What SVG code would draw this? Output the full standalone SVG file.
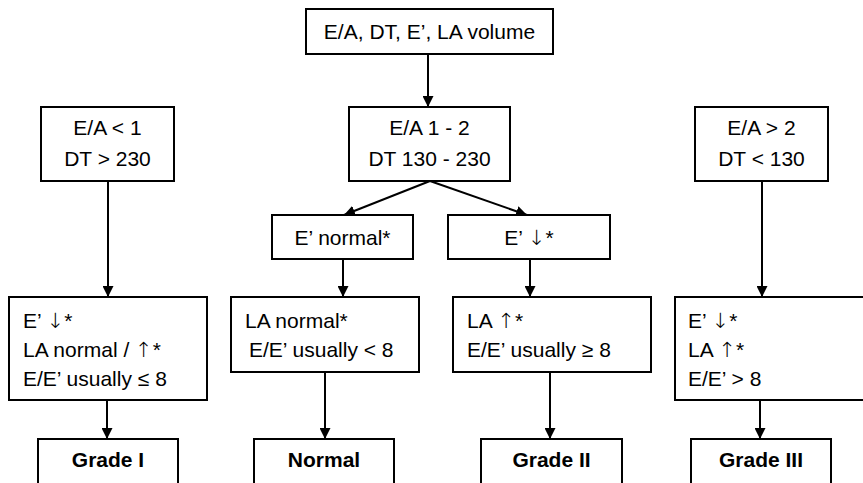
<svg xmlns="http://www.w3.org/2000/svg" width="863" height="483" viewBox="0 0 863 483">
<defs>
<marker id="ah" viewBox="0 0 10 10" refX="10" refY="5" markerWidth="11" markerHeight="11" markerUnits="userSpaceOnUse" orient="auto">
<path d="M0,0 L10,5 L0,10 Z" fill="#000"/>
</marker>
<style>
rect{fill:#fff;stroke:#000;stroke-width:2}
text{font-family:"Liberation Sans",Arial,sans-serif;font-size:21px;fill:#000}
.c{text-anchor:middle}
.b{font-weight:bold}
.ar{font-family:"DejaVu Sans",sans-serif;font-weight:200;font-size:21px;fill:#000}
#connectors line{stroke:#000;stroke-width:2;marker-end:url(#ah)}
</style>
</defs>
<rect x="0" y="0" width="863" height="483" style="fill:#fff;stroke:none"/>
<g id="connectors">
<line x1="428" y1="54" x2="428" y2="107"/>
<line x1="108" y1="181" x2="108" y2="297"/>
<line x1="430" y1="181" x2="344" y2="215"/>
<line x1="430" y1="181" x2="527" y2="215"/>
<line x1="762" y1="181" x2="762" y2="297"/>
<line x1="343" y1="259" x2="343" y2="297"/>
<line x1="530" y1="259" x2="530" y2="297"/>
<line x1="107" y1="400" x2="107" y2="439"/>
<line x1="325" y1="372" x2="325" y2="439"/>
<line x1="550" y1="372" x2="550" y2="439"/>
<line x1="760" y1="400" x2="760" y2="439"/>
</g>
<g id="n-start">
<rect x="306" y="9" width="247" height="45"/>
<text class="c" x="429.5" y="39">E/A, DT, E’, LA volume</text>
</g>
<g id="n-ea-low">
<rect x="41" y="107" width="133" height="74"/>
<text class="c" x="107.5" y="135">E/A &lt; 1</text>
<text class="c" x="107.5" y="166">DT &gt; 230</text>
</g>
<g id="n-ea-mid">
<rect x="349" y="107" width="161" height="74"/>
<text class="c" x="429.5" y="135">E/A 1 - 2</text>
<text class="c" x="429.5" y="166">DT 130 - 230</text>
</g>
<g id="n-ea-high">
<rect x="695" y="107" width="133" height="74"/>
<text class="c" x="761.5" y="135">E/A &gt; 2</text>
<text class="c" x="761.5" y="166">DT &lt; 130</text>
</g>
<g id="n-e-normal">
<rect x="272" y="215" width="141" height="44"/>
<text class="c" x="342.5" y="245">E’ normal*</text>
</g>
<g id="n-e-down">
<rect x="448" y="215" width="162" height="44"/>
<text class="c" x="529" y="245">E’ <tspan class="ar">↓</tspan>*</text>
</g>
<g id="n-grade1-crit">
<rect x="9" y="297" width="198" height="103"/>
<text x="23" y="328">E’ <tspan class="ar">↓</tspan>*</text>
<text x="23" y="357">LA normal / <tspan class="ar">↑</tspan>*</text>
<text x="23" y="386">E/E’ usually ≤ 8</text>
</g>
<g id="n-normal-crit">
<rect x="231" y="297" width="188" height="75"/>
<text x="245" y="328">LA normal*</text>
<text x="249" y="357">E/E’ usually &lt; 8</text>
</g>
<g id="n-grade2-crit">
<rect x="453" y="297" width="198" height="75"/>
<text x="467" y="328">LA <tspan class="ar">↑</tspan>*</text>
<text x="467" y="357">E/E’ usually ≥ 8</text>
</g>
<g id="n-grade3-crit">
<rect x="675" y="297" width="200" height="103"/>
<text x="688" y="328">E’ <tspan class="ar">↓</tspan>*</text>
<text x="688" y="357">LA <tspan class="ar">↑</tspan>*</text>
<text x="688" y="386">E/E’ &gt; 8</text>
</g>
<g id="n-grade1">
<rect x="38" y="439" width="140" height="60"/>
<text class="c b" x="108" y="467">Grade I</text>
</g>
<g id="n-normal">
<rect x="254" y="439" width="140" height="60"/>
<text class="c b" x="324" y="467">Normal</text>
</g>
<g id="n-grade2">
<rect x="481" y="439" width="141" height="60"/>
<text class="c b" x="551.5" y="467">Grade II</text>
</g>
<g id="n-grade3">
<rect x="691" y="439" width="140" height="60"/>
<text class="c b" x="761" y="467">Grade III</text>
</g>
</svg>
